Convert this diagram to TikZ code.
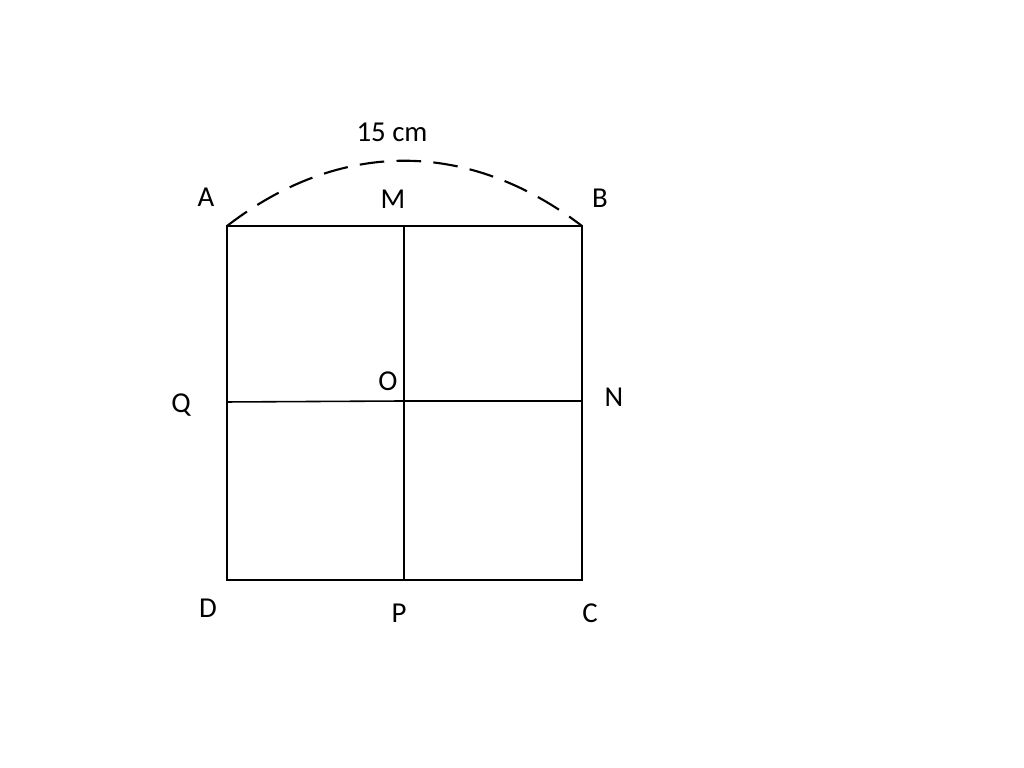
\documentclass[tikz,border=0pt]{standalone}
\usepackage{fontspec}
\setmainfont{Carlito}
\usepackage{tikz}

\begin{document}
\begin{tikzpicture}[x=0.01cm,y=-0.01cm,font=\fontsize{8.2}{10}\selectfont,
		side/.style={line width=0.6pt},
		mid/.style={line width=0.45pt},
		lbl/.style={inner sep=0pt}]
		\useasboundingbox (0,0) rectangle (1024,768);
		% corners and midpoints
		\coordinate (A) at (227,226);
		\coordinate (B) at (582,226);
		\coordinate (C) at (582,580);
		\coordinate (D) at (227,580);
		\coordinate (M) at (404,226);
		\coordinate (N) at (582,401);
		\coordinate (P) at (404,580);
		\coordinate (Q) at (227,402);
		\coordinate (O) at (404,401);
		\draw[side] (A) -- (B) -- (C) -- (D) -- cycle;
		\draw[side] (M) -- (P);
		\draw[mid] (Q) -- (O) -- (N);
		\draw[side, dash pattern=on 7pt off 3.5pt] (A) .. controls (340,139) and (468,139) .. (B);
		% labels
		\node[lbl] (lA) at (206,197) {A};
		\node[lbl] (lM) at (393,199) {M};
		\node[lbl] (lB) at (600,198) {B};
		\node[lbl] (lQ) at (181,405) {Q};
		\node[lbl] (lO) at (388,381) {O};
		\node[lbl] (lN) at (614,397) {N};
		\node[lbl] (lD) at (208,608) {D};
		\node[lbl] (lP) at (399,613) {P};
		\node[lbl] (lC) at (590,613) {C};
		\node[lbl] (len) at (392,132) {15 cm};
	\end{tikzpicture}
\end{document}
